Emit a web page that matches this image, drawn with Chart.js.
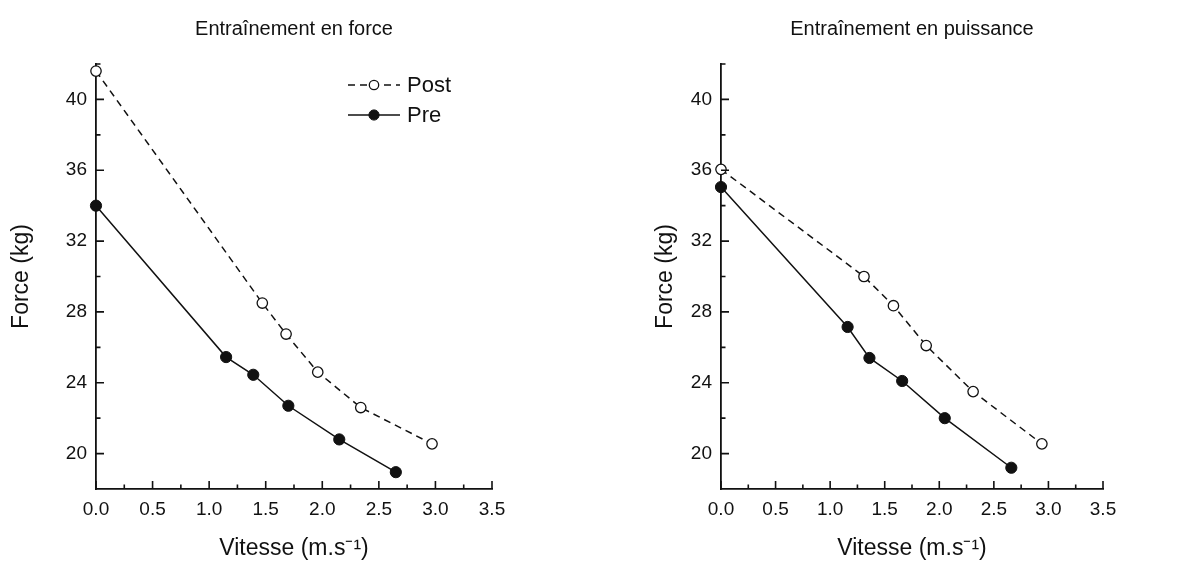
<!DOCTYPE html>
<html>
<head>
<meta charset="utf-8">
<script src="https://cdn.jsdelivr.net/npm/chart.js@4.4.0/dist/chart.umd.min.js"></script>
<style>
  html, body { margin: 0; padding: 0; background: #fff; }
  #wrap { position: relative; width: 1180px; height: 562px; }
  .box { position: absolute; top: 0; width: 590px; height: 562px; }
</style>
</head>
<body>
<div id="wrap">
  <div class="box" style="left:0"><canvas id="forceChart"></canvas></div>
  <div class="box" style="left:590px"><canvas id="powerChart"></canvas></div>
</div>
<script>
// Axis ticks
var xTicks = [0, 0.5, 1, 1.5, 2, 2.5, 3, 3.5];
var xMinorTicks = [0.25, 0.75, 1.25, 1.75, 2.25, 2.75, 3.25];
var yTicks = [20, 24, 28, 32, 36, 40];
var yMinorTicks = [22, 26, 30, 34, 38, 42];

// Entraînement en force
var forcePostX = [0, 1.47, 1.68, 1.96, 2.34, 2.97];
var forcePostY = [41.6, 28.5, 26.75, 24.6, 22.6, 20.55];
var forcePreX = [0, 1.15, 1.39, 1.70, 2.15, 2.65];
var forcePreY = [34.0, 25.45, 24.45, 22.7, 20.8, 18.95];

// Entraînement en puissance
var powerPostX = [0, 1.31, 1.58, 1.88, 2.31, 2.94];
var powerPostY = [36.05, 30.0, 28.35, 26.1, 23.5, 20.55];
var powerPreX = [0, 1.16, 1.36, 1.66, 2.05, 2.66];
var powerPreY = [35.05, 27.15, 25.4, 24.1, 22.0, 19.2];

var ink = '#111';
Chart.defaults.font.family = "'Liberation Sans', Arial, sans-serif";
Chart.defaults.color = ink;

function toPoints(xs, ys) {
    return xs.map(function(x, i) { return {x: x, y: ys[i]}; });
}

// Inward tick marks, as on the original plot
var tickMarks = {
    id: 'tickMarks',
    afterDraw: function(chart) {
        var ctx = chart.ctx;
        var area = chart.chartArea;
        var sx = chart.scales.x;
        var sy = chart.scales.y;
        ctx.save();
        ctx.strokeStyle = ink;
        ctx.lineWidth = 1.6;
        ctx.beginPath();
        xTicks.forEach(function(v) {
            var px = sx.getPixelForValue(v);
            ctx.moveTo(px, area.bottom); ctx.lineTo(px, area.bottom - 8);
        });
        xMinorTicks.forEach(function(v) {
            var px = sx.getPixelForValue(v);
            ctx.moveTo(px, area.bottom); ctx.lineTo(px, area.bottom - 4.5);
        });
        yTicks.forEach(function(v) {
            var py = sy.getPixelForValue(v);
            ctx.moveTo(area.left, py); ctx.lineTo(area.left + 8, py);
        });
        yMinorTicks.forEach(function(v) {
            var py = sy.getPixelForValue(v);
            ctx.moveTo(area.left, py); ctx.lineTo(area.left + 4.5, py);
        });
        ctx.stroke();
        ctx.restore();
    }
};

// Legend with line + marker sample, drawn from the dataset styles
var lineLegend = {
    id: 'lineLegend',
    afterDraw: function(chart, args, opts) {
        if (!opts.show) {
            return;
        }
        var ctx = chart.ctx;
        ctx.save();
        chart.data.datasets.forEach(function(ds, i) {
            var y = opts.y + i * opts.rowGap;
            ctx.strokeStyle = ds.borderColor;
            ctx.lineWidth = ds.borderWidth;
            ctx.setLineDash(ds.borderDash || []);
            ctx.beginPath();
            ctx.moveTo(opts.x, y);
            ctx.lineTo(opts.x + opts.lineLen, y);
            ctx.stroke();
            ctx.setLineDash([]);
            ctx.beginPath();
            ctx.arc(opts.x + opts.lineLen / 2, y, ds.pointRadius - 0.5, 0, Math.PI * 2);
            ctx.fillStyle = ds.pointBackgroundColor;
            ctx.fill();
            ctx.lineWidth = ds.pointBorderWidth;
            ctx.strokeStyle = ds.pointBorderColor;
            ctx.stroke();
            ctx.fillStyle = ink;
            ctx.font = "22px 'Liberation Sans', Arial, sans-serif";
            ctx.textBaseline = 'middle';
            ctx.fillText(ds.label, opts.x + opts.lineLen + 7, y + 1);
        });
        ctx.restore();
    }
};

function makeChart(id, title, postX, postY, preX, preY, geom, showLegend) {
    return new Chart(document.getElementById(id), {
        type: 'line',
        data: {
            datasets: [{
                label: 'Post',
                data: toPoints(postX, postY),
                borderColor: ink,
                borderWidth: 1.5,
                borderDash: [7, 5],
                pointRadius: 5.2,
                pointBackgroundColor: '#fff',
                pointBorderColor: ink,
                pointBorderWidth: 1.3,
                clip: false
            }, {
                label: 'Pre',
                data: toPoints(preX, preY),
                borderColor: ink,
                borderWidth: 1.5,
                pointRadius: 5.6,
                pointBackgroundColor: ink,
                pointBorderColor: ink,
                pointBorderWidth: 1,
                clip: false
            }]
        },
        options: {
            responsive: true,
            maintainAspectRatio: false,
            animation: false,
            layout: {
                padding: {left: geom.padLeft, right: geom.padRight, top: 0, bottom: 0}
            },
            plugins: {
                legend: {display: false},
                tooltip: {enabled: false},
                title: {
                    display: true,
                    text: title,
                    fullSize: false,
                    color: ink,
                    font: {size: 20, weight: 'normal'},
                    padding: {top: 17, bottom: 23}
                },
                lineLegend: {show: showLegend, x: 348, y: 85, lineLen: 52, rowGap: 30}
            },
            scales: {
                x: {
                    type: 'linear',
                    min: 0,
                    max: 3.5,
                    z: 1,
                    afterBuildTicks: function(s) {
                        s.ticks = xTicks.map(function(v) { return {value: v}; });
                    },
                    afterFit: function(s) { s.height = 73; },
                    grid: {display: false, drawTicks: false},
                    border: {display: true, color: ink, width: 1.8},
                    ticks: {
                        padding: 9,
                        font: {size: 19},
                        maxRotation: 0,
                        callback: function(v) { return v.toFixed(1); }
                    },
                    title: {
                        display: true,
                        text: 'Vitesse (m.s\u207B\u00B9)',
                        font: {size: 23},
                        padding: {top: 0, bottom: 0}
                    }
                },
                y: {
                    type: 'linear',
                    min: 18,
                    max: 42,
                    z: 1,
                    afterBuildTicks: function(s) {
                        s.ticks = yTicks.map(function(v) { return {value: v}; });
                    },
                    afterFit: function(s) { s.width = geom.yWidth; },
                    grid: {display: false, drawTicks: false},
                    border: {display: true, color: ink, width: 1.8},
                    ticks: {
                        padding: 9,
                        font: {size: 19}
                    },
                    title: {
                        display: true,
                        text: 'Force (kg)',
                        font: {size: 23},
                        padding: {top: 8, bottom: 0}
                    }
                }
            }
        },
        plugins: [tickMarks, lineLegend]
    });
}

makeChart('forceChart', 'Entraînement en force',
    forcePostX, forcePostY, forcePreX, forcePreY,
    {padLeft: 0, yWidth: 96, padRight: 98}, true);

makeChart('powerChart', 'Entraînement en puissance',
    powerPostX, powerPostY, powerPreX, powerPreY,
    {padLeft: 54, yWidth: 77, padRight: 77}, false);
</script>
</body>
</html>
